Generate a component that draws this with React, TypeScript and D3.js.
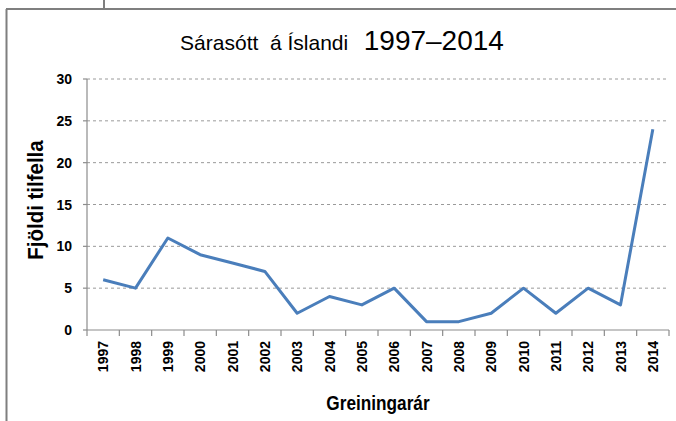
import React, { useRef, useEffect } from "react";
import * as d3 from "d3";

const width = 676;
const height = 421;
const margin = { left: 87, right: 7, top: 79, bottom: 91 }; // plot area edges

const years = [
  "1997", "1998", "1999", "2000", "2001", "2002", "2003", "2004", "2005",
  "2006", "2007", "2008", "2009", "2010", "2011", "2012", "2013", "2014",
];
const cases = [6, 5, 11, 9, 8, 7, 2, 4, 3, 5, 1, 1, 2, 5, 2, 5, 3, 24];
const yTicks = [0, 5, 10, 15, 20, 25, 30];

const titleMain = "Sárasótt  á Íslandi";
const titleYears = "1997–2014";
const yTitle = "Fjöldi tilfella";
const xTitle = "Greiningarár";

const lineColor = "#4a7ebb";
const axisColor = "#8c8c8c";
const font = "'Liberation Sans', Arial, sans-serif";

const App = () => {
  const xAxisRef = useRef<SVGGElement>(null);
  const yAxisRef = useRef<SVGGElement>(null);

  const x = d3
    .scaleBand()
    .domain(years)
    .range([margin.left, width - margin.right]);
  const y = d3
    .scaleLinear()
    .domain([0, 30])
    .range([height - margin.bottom, margin.top]);

  const line = d3
    .line<number>()
    .x((_, i) => (x(years[i]) as number) + x.bandwidth() / 2)
    .y((d) => y(d));

  useEffect(() => {
    // x axis: ticks sit between categories like a spreadsheet chart
    const gx = d3.select(xAxisRef.current);
    gx.selectAll("*").remove();
    gx.append("line")
      .attr("x1", margin.left)
      .attr("x2", width - margin.right)
      .attr("y1", 0)
      .attr("y2", 0)
      .attr("stroke", axisColor)
      .attr("stroke-width", 1.2);
    const bounds = years.map((yr) => x(yr) as number).concat([x.range()[1]]);
    gx.selectAll("line.tick")
      .data(bounds)
      .enter()
      .append("line")
      .attr("class", "tick")
      .attr("x1", (d) => d)
      .attr("x2", (d) => d)
      .attr("y1", 0)
      .attr("y2", 6)
      .attr("stroke", axisColor)
      .attr("stroke-width", 1.2);
    gx.selectAll("text")
      .data(years)
      .enter()
      .append("text")
      .attr(
        "transform",
        (d) => `translate(${(x(d) as number) + x.bandwidth() / 2 + 5}, 11) rotate(-90)`
      )
      .attr("text-anchor", "end")
      .attr("font-family", font)
      .attr("font-weight", "bold")
      .attr("font-size", 14)
      .attr("fill", "#000")
      .text((d) => d);

    // y axis
    const gy = d3.select(yAxisRef.current);
    gy.selectAll("*").remove();
    gy.append("line")
      .attr("x1", 0)
      .attr("x2", 0)
      .attr("y1", y(30))
      .attr("y2", y(0))
      .attr("stroke", axisColor)
      .attr("stroke-width", 1.2);
    gy.selectAll("line.tick")
      .data(yTicks)
      .enter()
      .append("line")
      .attr("class", "tick")
      .attr("x1", -4)
      .attr("x2", 0)
      .attr("y1", (d) => y(d))
      .attr("y2", (d) => y(d))
      .attr("stroke", axisColor)
      .attr("stroke-width", 1.2);
    gy.selectAll("text")
      .data(yTicks)
      .enter()
      .append("text")
      .attr("x", -15)
      .attr("y", (d) => y(d) + 5)
      .attr("text-anchor", "end")
      .attr("font-family", font)
      .attr("font-weight", "bold")
      .attr("font-size", 14)
      .attr("fill", "#000")
      .text((d) => d);
  }, []);

  return (
    <svg
      width={width}
      height={height}
      style={{ position: "absolute", left: 0, top: 0, background: "#fff" }}
    >
      {/* frame */}
      <line x1={104} x2={104} y1={0} y2={9} stroke="#7f7f7f" strokeWidth={2} />
      <line x1={6} x2={width} y1={9} y2={9} stroke="#7f7f7f" strokeWidth={2} />
      <line x1={6.5} x2={6.5} y1={9} y2={height} stroke="#7f7f7f" strokeWidth={2} />

      {/* title */}
      <text
        x={342}
        y={50}
        textAnchor="middle"
        fontFamily={font}
        fill="#000"
        style={{ whiteSpace: "pre" }}
      >
        <tspan fontSize={21}>{titleMain}</tspan>
        <tspan fontSize={28}>{"  " + titleYears}</tspan>
      </text>

      {/* grid */}
      {yTicks
        .filter((t) => t > 0)
        .map((t) => (
          <line
            key={t}
            x1={margin.left}
            x2={width - margin.right}
            y1={y(t)}
            y2={y(t)}
            stroke="#9a9a9a"
            strokeWidth={1}
            strokeDasharray="3,3"
          />
        ))}

      <g ref={xAxisRef} transform={`translate(0, ${y(0)})`} />
      <g ref={yAxisRef} transform={`translate(${margin.left}, 0)`} />

      <path
        d={line(cases) || ""}
        fill="none"
        stroke={lineColor}
        strokeWidth={3}
        strokeLinejoin="round"
      />

      {/* axis titles */}
      <text
        transform={`translate(43, 200) rotate(-90) scale(0.93, 1)`}
        textAnchor="middle"
        fontFamily={font}
        fontWeight="bold"
        fontSize={22}
        fill="#000"
      >
        {yTitle}
      </text>
      <text
        transform="translate(378, 410) scale(0.82, 1)"
        textAnchor="middle"
        fontFamily={font}
        fontWeight="bold"
        fontSize={21}
        fill="#000"
      >
        {xTitle}
      </text>
    </svg>
  );
};

export default App;
